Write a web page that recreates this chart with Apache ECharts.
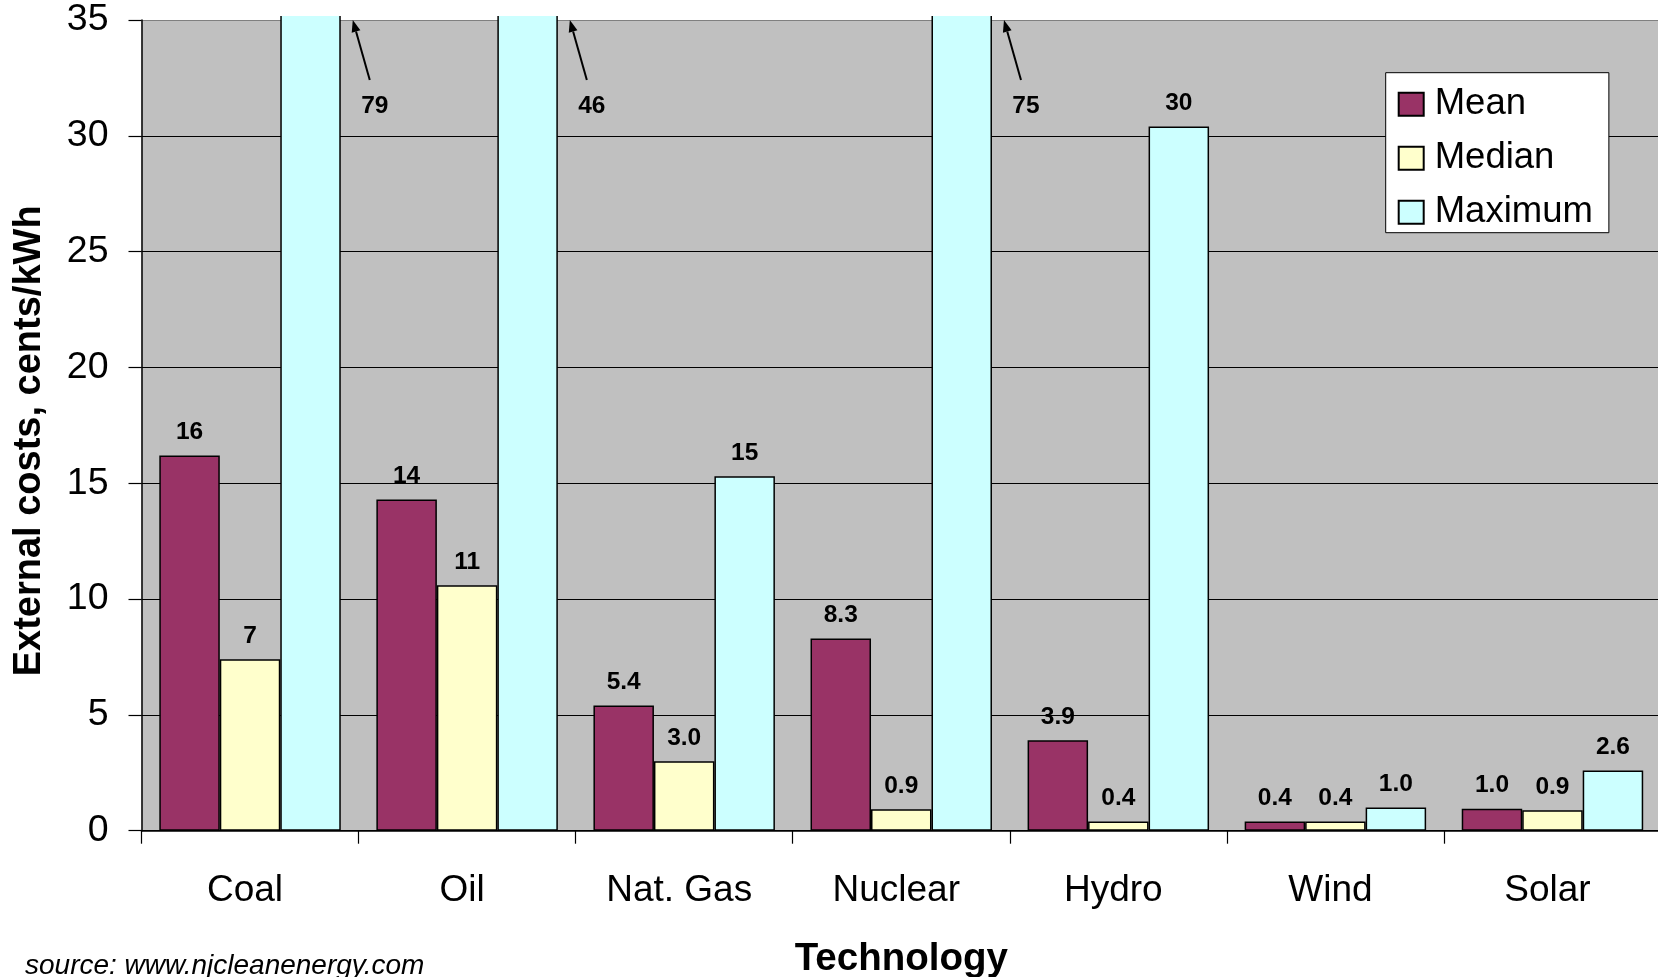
<!DOCTYPE html>
<html><head><meta charset="utf-8">
<script src="https://cdn.jsdelivr.net/npm/echarts@6/dist/echarts.min.js"></script>
<style>html,body{margin:0;padding:0;background:#fff}#c{width:1658px;height:977px}</style>
</head><body><div id="c"></div>
<script>
// ---- data ----
const categories = ['Coal', 'Oil', 'Nat. Gas', 'Nuclear', 'Hydro', 'Wind', 'Solar'];
const meanValues = [16.2, 14.3, 5.4, 8.3, 3.9, 0.4, 0.95];
const medianValues = [7.4, 10.6, 3.0, 0.93, 0.4, 0.4, 0.88];
const maximumValues = [79, 46, 15.3, 75, 30.4, 1.0, 2.6];
const meanLabels = ['16', '14', '5.4', '8.3', '3.9', '0.4', '1.0'];
const medianLabels = ['7', '11', '3.0', '0.9', '0.4', '0.4', '0.9'];
const maximumLabels = ['79', '46', '15', '75', '30', '1.0', '2.6'];
const yMin = 0, yMax = 35, yStep = 5;
const seriesNames = ['Mean', 'Median', 'Maximum'];
const yTitle = 'External costs, cents/kWh';
const xTitle = 'Technology';
const sourceNote = 'source: www.njcleanenergy.com';

// ---- style ----
const FONT = '"Liberation Sans", Arial, Helvetica, sans-serif';
const colors = ['#993366', '#FFFFCC', '#CCFFFF'];
const catGap = 0.164;
const GRID_LEFT = 141.5;

const chart = echarts.init(document.getElementById('c'), null, {renderer: 'canvas'});

function mkSeries(name, values, labels, color) {
  return {
    name: name,
    type: 'bar',
    data: values,
    clip: false,
    barGap: '0%',
    barCategoryGap: (catGap * 100) + '%',
    itemStyle: {color: color, borderColor: '#000', borderWidth: 1.5},
    label: {
      show: true,
      position: 'top',
      distance: 10.5,
      color: '#000',
      fontFamily: FONT,
      fontWeight: 'bold',
      fontSize: 24.5,
      formatter: function (p) { return p.value > yMax ? '' : labels[p.dataIndex]; }
    },
    emphasis: {disabled: true},
    animation: false
  };
}

const nLines = (yMax - yMin) / yStep + 1;
const splitColors = [];
for (let i = 0; i < nLines; i++) splitColors.push(i === nLines - 1 ? '#808080' : '#000');

const option = {
  animation: false,
  backgroundColor: '#fff',
  textStyle: {fontFamily: FONT},
  grid: {
    left: GRID_LEFT, right: -3, top: 20, bottom: 146.3,
    containLabel: false,
    outerBoundsMode: 'none',
    show: true, backgroundColor: '#C0C0C0', borderWidth: 0
  },
  legend: {
    orient: 'vertical',
    left: 1385.7, top: 72.7,
    backgroundColor: '#fff',
    borderColor: '#000', borderWidth: 1,
    padding: [13, 16, 2, 12],
    itemWidth: 25, itemHeight: 23,
    itemGap: 17,
    icon: 'rect',
    textStyle: {fontFamily: FONT, fontSize: 36.5, color: '#000', lineHeight: 36, padding: [0, 0, 0, 6]},
    data: seriesNames
  },
  xAxis: {
    type: 'category',
    data: categories,
    name: xTitle,
    nameLocation: 'middle',
    nameGap: 109,
    nameTextStyle: {fontFamily: FONT, fontWeight: 'bold', fontSize: 38.5, color: '#000'},
    axisLine: {lineStyle: {color: '#000', width: 1.5}},
    axisTick: {show: true, length: 13, lineStyle: {color: '#000', width: 1.2}},
    axisLabel: {fontFamily: FONT, fontSize: 37, color: '#000', margin: 42, interval: 0, padding: [0, 10, 0, 0]},
    splitLine: {show: false}
  },
  yAxis: {
    type: 'value',
    min: yMin, max: yMax, interval: yStep,
    name: yTitle,
    nameLocation: 'middle',
    nameGap: 93,
    nameRotate: 90,
    nameTextStyle: {fontFamily: FONT, fontWeight: 'bold', fontSize: 38, color: '#000', padding: [0, 31, 0, 0]},
    axisLine: {show: true, lineStyle: {color: '#000', width: 1.5}},
    axisTick: {show: true, length: 13, lineStyle: {color: '#000', width: 1.2}},
    axisLabel: {fontFamily: FONT, fontSize: 37.5, color: '#000', margin: 33},
    splitLine: {show: true, lineStyle: {color: splitColors, width: 1.2}}
  },
  series: [
    mkSeries(seriesNames[0], meanValues, meanLabels, colors[0]),
    mkSeries(seriesNames[1], medianValues, medianLabels, colors[1]),
    mkSeries(seriesNames[2], maximumValues, maximumLabels, colors[2])
  ]
};
chart.setOption(option);

// ---- annotations for off-scale maximum bars (positions from axis scales) ----
const graphics = [];
const yTopPx = chart.convertToPixel({yAxisIndex: 0}, yMax);
// white margin above the plot frame (tall bars end just above it)
graphics.push({type: 'rect', z: 100, shape: {x: GRID_LEFT + 1, y: 0, width: 1658, height: yTopPx - 4}, style: {fill: '#fff'}, silent: true});

maximumValues.forEach(function (v, i) {
  if (v <= yMax) return;
  const cx = chart.convertToPixel({xAxisIndex: 0}, i);
  const cx2 = chart.convertToPixel({xAxisIndex: 0}, i + 1 < categories.length ? i + 1 : i - 1);
  const catW = Math.abs(cx2 - cx);
  const barRight = cx + catW * (1 - catGap) / 2;
  const tipX = barRight + 12, tipY = yTopPx;
  const baseX = barRight + 29, baseY = yTopPx + 60;
  const dx = tipX - baseX, dy = tipY - baseY;
  const len = Math.sqrt(dx * dx + dy * dy);
  const ux = dx / len, uy = dy / len;
  const hl = 12, hw = 4.5;
  const bx = tipX - ux * hl, by = tipY - uy * hl;
  graphics.push({type: 'line', z: 110, shape: {x1: baseX, y1: baseY, x2: bx, y2: by}, style: {stroke: '#000', lineWidth: 2}, silent: true});
  graphics.push({type: 'polygon', z: 110, shape: {points: [[tipX, tipY], [bx - uy * hw, by + ux * hw], [bx + uy * hw, by - ux * hw]]}, style: {fill: '#000'}, silent: true});
  graphics.push({type: 'text', z: 110, x: barRight + 34, y: yTopPx + 86,
    style: {text: maximumLabels[i], font: 'bold 24.5px ' + FONT, fill: '#000', align: 'center', verticalAlign: 'middle'}, silent: true});
});

graphics.push({type: 'text', z: 110, x: 25, y: 966,
  style: {text: sourceNote, font: 'italic 28px ' + FONT, fill: '#000', align: 'left', verticalAlign: 'middle'}, silent: true});

chart.setOption({graphic: graphics});
</script>
</body></html>
